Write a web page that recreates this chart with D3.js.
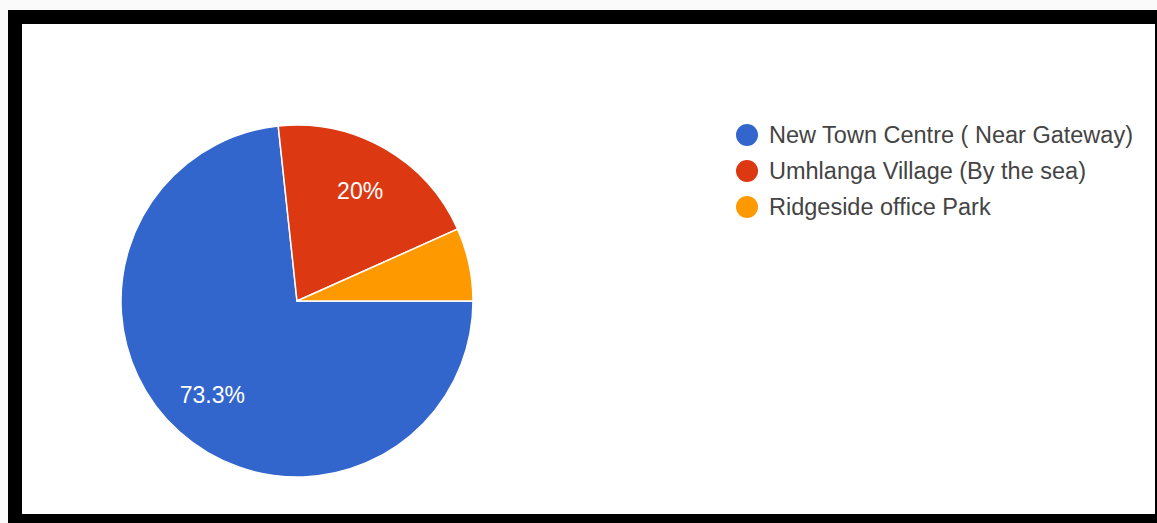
<!DOCTYPE html>
<html>
<head>
<meta charset="utf-8">
<script src="https://cdn.jsdelivr.net/npm/d3@7"></script>
<style>
  html, body { margin: 0; padding: 0; background: #fafafa; }
  svg { display: block; }
</style>
</head>
<body>
<svg id="chart" width="1157" height="523"></svg>
<script>
const categories = ["New Town Centre ( Near Gateway)", "Umhlanga Village (By the sea)", "Ridgeside office Park"];
const values = [73.3, 20, 6.7];
const labels = ["73.3%", "20%", ""];
const colors = ["#3366cc", "#dc3912", "#ff9900"];

const svg = d3.select("#chart");
const W = 1157, H = 523;

// frame
svg.append("rect").attr("x", 8).attr("y", 10).attr("width", W - 8).attr("height", H - 10).attr("fill", "#000");
svg.append("rect").attr("x", 22).attr("y", 24).attr("width", 1155 - 22).attr("height", 514 - 24).attr("fill", "#fff");

const cx = 297, cy = 301, r = 176;
const data = categories.map((c, i) => ({ name: c, value: values[i], label: labels[i] }));

const pie = d3.pie().value(d => d.value).sort(null)
  .startAngle(Math.PI / 2).endAngle(Math.PI / 2 + 2 * Math.PI);
const arc = d3.arc().innerRadius(0).outerRadius(r);
const labelArc = d3.arc().innerRadius(r * 0.72).outerRadius(r * 0.72);

const color = d3.scaleOrdinal().domain(categories).range(colors);

const g = svg.append("g").attr("transform", `translate(${cx},${cy})`);
const arcs = pie(data);
g.selectAll("path").data(arcs).join("path")
  .attr("d", arc)
  .attr("fill", d => color(d.data.name))
  .attr("stroke", "#fff")
  .attr("stroke-width", 1.5);

g.selectAll("text.lab").data(arcs).join("text")
  .attr("class", "lab")
  .attr("transform", d => { const [x, y] = labelArc.centroid(d); return `translate(${x},${y})`; })
  .attr("text-anchor", "middle")
  .attr("dominant-baseline", "central")
  .attr("font-family", "Liberation Sans, Arial, sans-serif")
  .attr("font-size", 23)
  .attr("fill", "#fff")
  .text(d => d.data.label);

// legend
const lg = svg.append("g").attr("transform", "translate(747,135)");
const items = lg.selectAll("g").data(categories).join("g")
  .attr("transform", (d, i) => `translate(0,${i * 36})`);
items.append("circle").attr("r", 11).attr("fill", d => color(d));
items.append("text")
  .attr("x", 22)
  .attr("dominant-baseline", "central")
  .attr("font-family", "Liberation Sans, Arial, sans-serif")
  .attr("font-size", 23.5)
  .attr("fill", "#444")
  .text(d => d);
</script>
</body>
</html>
